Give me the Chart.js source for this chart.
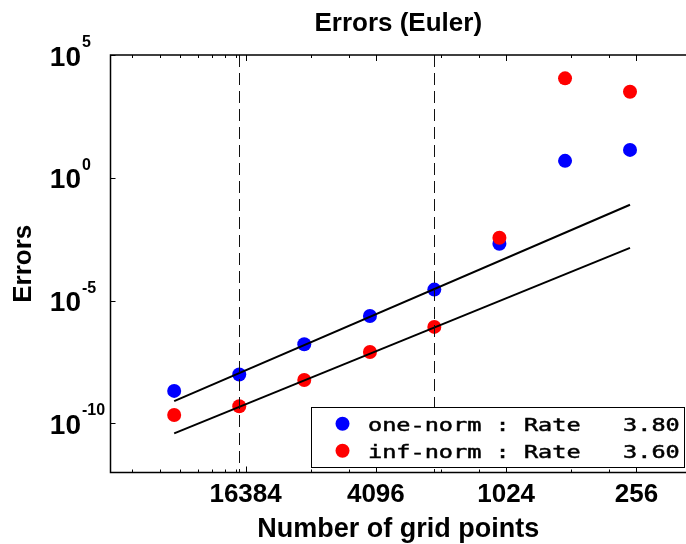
<!DOCTYPE html>
<html>
<head>
<meta charset="utf-8">
<script src="https://cdn.jsdelivr.net/npm/chart.js@4.4.1/dist/chart.umd.min.js"></script>
<style>
  html, body { margin: 0; padding: 0; background: #fff; overflow: hidden; }
  #wrap { width: 686px; height: 544px; }
</style>
</head>
<body>
<div id="wrap"><canvas id="myChart"></canvas></div>
<script>
// where the grid sizes sit on the reversed log axis
const gridPoints = [35040, 17530, 8775, 4362, 2199, 1100, 547, 274];
const oneNorm = [2.1e-9, 9.8e-9, 1.67e-7, 2.37e-6, 2.8e-5, 2.07e-3, 4.9, 13.7];
const infNorm = [2.2e-10, 5.0e-10, 5.8e-9, 8.1e-8, 8.5e-7, 3.6e-3, 1.12e4, 3.2e3];
// fitted lines: value at first and last grid size
const oneFit = [8.1e-10, 8.0e-2];
const infFit = [3.9e-11, 1.4e-3];
const normNames = ['one-norm', 'inf-norm'];
const rates = [3.80, 3.60];

const xMajorTicks = [16384, 4096, 1024, 256];
const xMinorTicks = [54613, 40960, 32768, 27307, 23406, 20480, 18204, 8192, 5461, 2048, 1365, 512, 341];
const yTicks = [1e5, 1e0, 1e-5, 1e-10];
const xRange = [151, 69000];
const yRange = [1e-12, 1e5];
const dashedAt = [gridPoints[1], gridPoints[4]];

const helv = 'Liberation Sans, Arial, sans-serif';

const frame = {
    id: 'frame',
    afterDatasetsDraw(chart) {
        const { ctx, chartArea: a, scales: { x, y } } = chart;
        ctx.save();
        // dashed vertical lines
        ctx.strokeStyle = '#111';
        ctx.lineWidth = 1;
        ctx.setLineDash([12, 6]);
        dashedAt.forEach(v => {
            const px = Math.round(x.getPixelForValue(v)) + 0.5;
            ctx.beginPath(); ctx.moveTo(px, a.top); ctx.lineTo(px, a.bottom); ctx.stroke();
        });
        ctx.setLineDash([]);
        // box (right side is off the picture)
        ctx.strokeStyle = '#000';
        ctx.lineWidth = 1.5;
        ctx.beginPath();
        ctx.moveTo(a.right + 2, a.top); ctx.lineTo(a.left, a.top);
        ctx.lineTo(a.left, a.bottom); ctx.lineTo(a.right + 2, a.bottom);
        ctx.stroke();
        // inward ticks
        ctx.lineWidth = 1;
        const xt = (v, len) => {
            const px = Math.round(x.getPixelForValue(v)) + 0.5;
            ctx.beginPath();
            ctx.moveTo(px, a.top); ctx.lineTo(px, a.top + len);
            ctx.moveTo(px, a.bottom); ctx.lineTo(px, a.bottom - len);
            ctx.stroke();
        };
        xMajorTicks.forEach(v => xt(v, 6));
        xMinorTicks.forEach(v => xt(v, 3));
        yTicks.forEach(v => {
            const py = Math.round(y.getPixelForValue(v)) + 0.5;
            ctx.beginPath(); ctx.moveTo(a.left, py); ctx.lineTo(a.left + 5, py); ctx.stroke();
        });
        // y labels as 10^n
        ctx.fillStyle = '#000';
        ctx.textBaseline = 'alphabetic';
        yTicks.forEach(v => {
            const py = y.getPixelForValue(v);
            ctx.font = 'bold 28px ' + helv;
            ctx.textAlign = 'right';
            ctx.fillText('10', 81, py + 10.5);
            ctx.font = 'bold 16px ' + helv;
            ctx.textAlign = 'left';
            ctx.fillText(String(Math.round(Math.log10(v))), 82, py - 8);
        });
        ctx.restore();
    },
    afterDraw(chart) {
        const ctx = chart.ctx;
        const rows = chart.data.datasets.filter(d => d.inLegend);
        ctx.save();
        ctx.fillStyle = '#fff';
        ctx.fillRect(311, 407, 373, 60);
        ctx.strokeStyle = '#000';
        ctx.lineWidth = 1;
        ctx.strokeRect(311.5, 407.5, 373, 60);
        rows.forEach((d, i) => {
            const cy = 423.7 + i * 27;
            ctx.fillStyle = d.backgroundColor;
            ctx.beginPath(); ctx.arc(342.5, cy, 7, 0, Math.PI * 2); ctx.fill();
            ctx.save();
            ctx.translate(368, cy + 6.8);
            ctx.scale(1.28, 1);
            ctx.font = '18.4px "DejaVu Sans Mono", monospace';
            ctx.fillStyle = '#000';
            ctx.strokeStyle = '#000';
            ctx.lineWidth = 0.5;
            ctx.textAlign = 'left';
            ctx.textBaseline = 'alphabetic';
            ctx.fillText(d.label, 0, 0);
            ctx.strokeText(d.label, 0, 0);
            ctx.restore();
        });
        ctx.restore();
    }
};

const pts = vals => gridPoints.map((g, i) => ({ x: g, y: vals[i] }));
const ends = f => [{ x: gridPoints[0], y: f[0] }, { x: gridPoints[gridPoints.length - 1], y: f[1] }];

const ctx = document.getElementById('myChart').getContext('2d');
const myChart = new Chart(ctx, {
    type: 'scatter',
    data: {
        datasets: [{
            label: normNames[0] + ' : Rate   ' + rates[0].toFixed(2),
            data: pts(oneNorm),
            backgroundColor: '#0000ff',
            pointRadius: 7,
            pointBorderWidth: 0,
            order: 2,
            inLegend: true
        }, {
            label: normNames[1] + ' : Rate   ' + rates[1].toFixed(2),
            data: pts(infNorm),
            backgroundColor: '#ff0000',
            pointRadius: 7,
            pointBorderWidth: 0,
            order: 1,
            inLegend: true
        }, {
            type: 'line',
            data: ends(oneFit),
            borderColor: '#000',
            borderWidth: 2,
            pointRadius: 0,
            order: 0
        }, {
            type: 'line',
            data: ends(infFit),
            borderColor: '#000',
            borderWidth: 2,
            pointRadius: 0,
            order: 0
        }]
    },
    options: {
        responsive: true,
        maintainAspectRatio: false,
        animation: false,
        layout: { padding: 0, autoPadding: false },
        plugins: {
            legend: { display: false },
            tooltip: { enabled: false },
            title: {
                display: true,
                text: 'Errors (Euler)',
                fullSize: false,
                color: '#000',
                font: { family: helv, size: 26, weight: 'bold', lineHeight: 1.2 },
                padding: { top: 8.4, bottom: 15.4 }
            }
        },
        scales: {
            x: {
                type: 'logarithmic',
                reverse: true,
                min: xRange[0],
                max: xRange[1],
                grid: { display: false, drawTicks: false },
                border: { display: false },
                ticks: {
                    autoSkip: false,
                    maxRotation: 0,
                    padding: 7,
                    color: '#000',
                    font: { family: helv, size: 26, weight: 'bold' },
                    callback: v => String(v)
                },
                afterBuildTicks: s => { s.ticks = xMajorTicks.map(v => ({ value: v })); },
                afterFit: s => { s.height = 71.5; },
                title: {
                    display: true,
                    text: 'Number of grid points',
                    color: '#000',
                    font: { family: helv, size: 27, weight: 'bold', lineHeight: 1.1 },
                    padding: { top: 0, bottom: 0 }
                }
            },
            y: {
                type: 'logarithmic',
                min: yRange[0],
                max: yRange[1],
                grid: { display: false, drawTicks: false },
                border: { display: false },
                ticks: { display: false },
                afterFit: s => { s.width = 110.5; },
                title: {
                    display: true,
                    text: 'Errors',
                    color: '#000',
                    font: { family: helv, size: 26, weight: 'bold', lineHeight: 1.2 },
                    padding: { top: 8, bottom: 0 }
                }
            }
        }
    },
    plugins: [frame]
});
</script>
</body>
</html>
